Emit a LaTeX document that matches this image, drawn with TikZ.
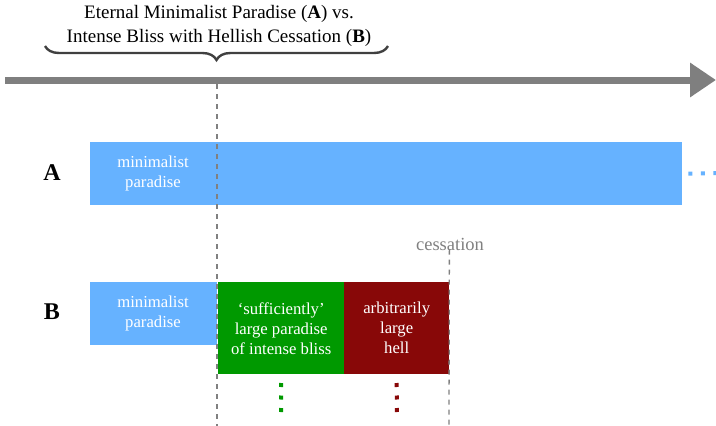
\documentclass[tikz,border=0pt]{standalone}
\usepackage{fontspec}
\setmainfont{Liberation Serif}
\usetikzlibrary{decorations.pathreplacing, arrows.meta}
\definecolor{paradiseblue}{HTML}{66B2FF}
\definecolor{blissgreen}{HTML}{009900}
\definecolor{hellred}{HTML}{880808}
\definecolor{axisgray}{HTML}{7F7F7F}
\definecolor{guidegray}{HTML}{808080}
\begin{document}
\begin{tikzpicture}[x=1pt, y=-1pt,
  block/.style={draw=none, inner sep=0pt, anchor=north west},
  blocktext/.style={text=white, font=\fontsize{16.7}{20}\selectfont, align=center},
  rowlabel/.style={font=\fontsize{24}{26}\selectfont\bfseries},
  guide/.style={guidegray, line width=1.3pt, dash pattern=on 5pt off 5pt},
  dots/.style={line width=4pt, dash pattern=on 4pt off 8.5pt}]
  \useasboundingbox (0,0) rectangle (716,426);

  % title and brace
  \node[font=\fontsize{19}{24}\selectfont, align=center] (title) at (219,26)
    {Eternal Minimalist Paradise (\textbf{A}) vs.\\
     Intense Bliss with Hellish Cessation (\textbf{B})};
  \coordinate (braceR) at (388,46);
  \coordinate (braceL) at (45,46);
  \draw[black!75, line width=2.4pt, decorate, decoration={brace, amplitude=14pt}]
    (braceR) -- (braceL);
  \coordinate (bracetip) at (217,84);

  % time axis
  \coordinate (axisL) at (5,80);
  \coordinate (axisR) at (716,80);
  \draw[axisgray, line width=7pt, -{Triangle[length=26pt, width=33pt]}] (axisL) -- (axisR);

  % row A
  \node[rowlabel] (labA) at (52,173) {A};
  \node[block, fill=paradiseblue, minimum width=592pt, minimum height=63pt] (boxA) at (90,142) {};
  \node[blocktext] (txtA) at (153,173) {minimalist\\paradise};
  \coordinate (dotsAend) at (716,173);
  \draw[paradiseblue, dots] ([xshift=6pt]boxA.east) -- (dotsAend);

  % row B
  \node[rowlabel] (labB) at (52,312) {B};
  \node[block, fill=paradiseblue, minimum width=127pt, minimum height=63pt] (boxB) at (90,282) {};
  \node[blocktext] (txtB) at (153,313) {minimalist\\paradise};
  \node[block, fill=blissgreen, minimum width=126pt, minimum height=92pt] (bliss) at (218,282) {};
  \node[blocktext] at (bliss.center) {‘sufficiently’\\large paradise\\of intense bliss};
  \node[block, fill=hellred, minimum width=105pt, minimum height=92pt] (hell) at (344,282) {};
  \node[blocktext] at (hell.center) {arbitrarily\\large\\hell};

  \coordinate (greendotsEnd) at (281,414);
  \coordinate (reddotsEnd) at (397,414);
  \draw[blissgreen, dots] (bliss.south |- 0,383) -- (greendotsEnd);
  \draw[hellred, dots] (hell.south |- 0,383) -- (reddotsEnd);

  % guide lines
  \node[text=guidegray, font=\fontsize{18.5}{22}\selectfont, anchor=base] (cess) at (450,250) {cessation};
  \coordinate (guideAend) at (217,426);
  \coordinate (guideBend) at (449,426);
  \draw[guide] (bracetip) -- (guideAend);
  \draw[guide] ([yshift=4pt]cess.south -| hell.east) -- (guideBend);
\end{tikzpicture}
\end{document}
